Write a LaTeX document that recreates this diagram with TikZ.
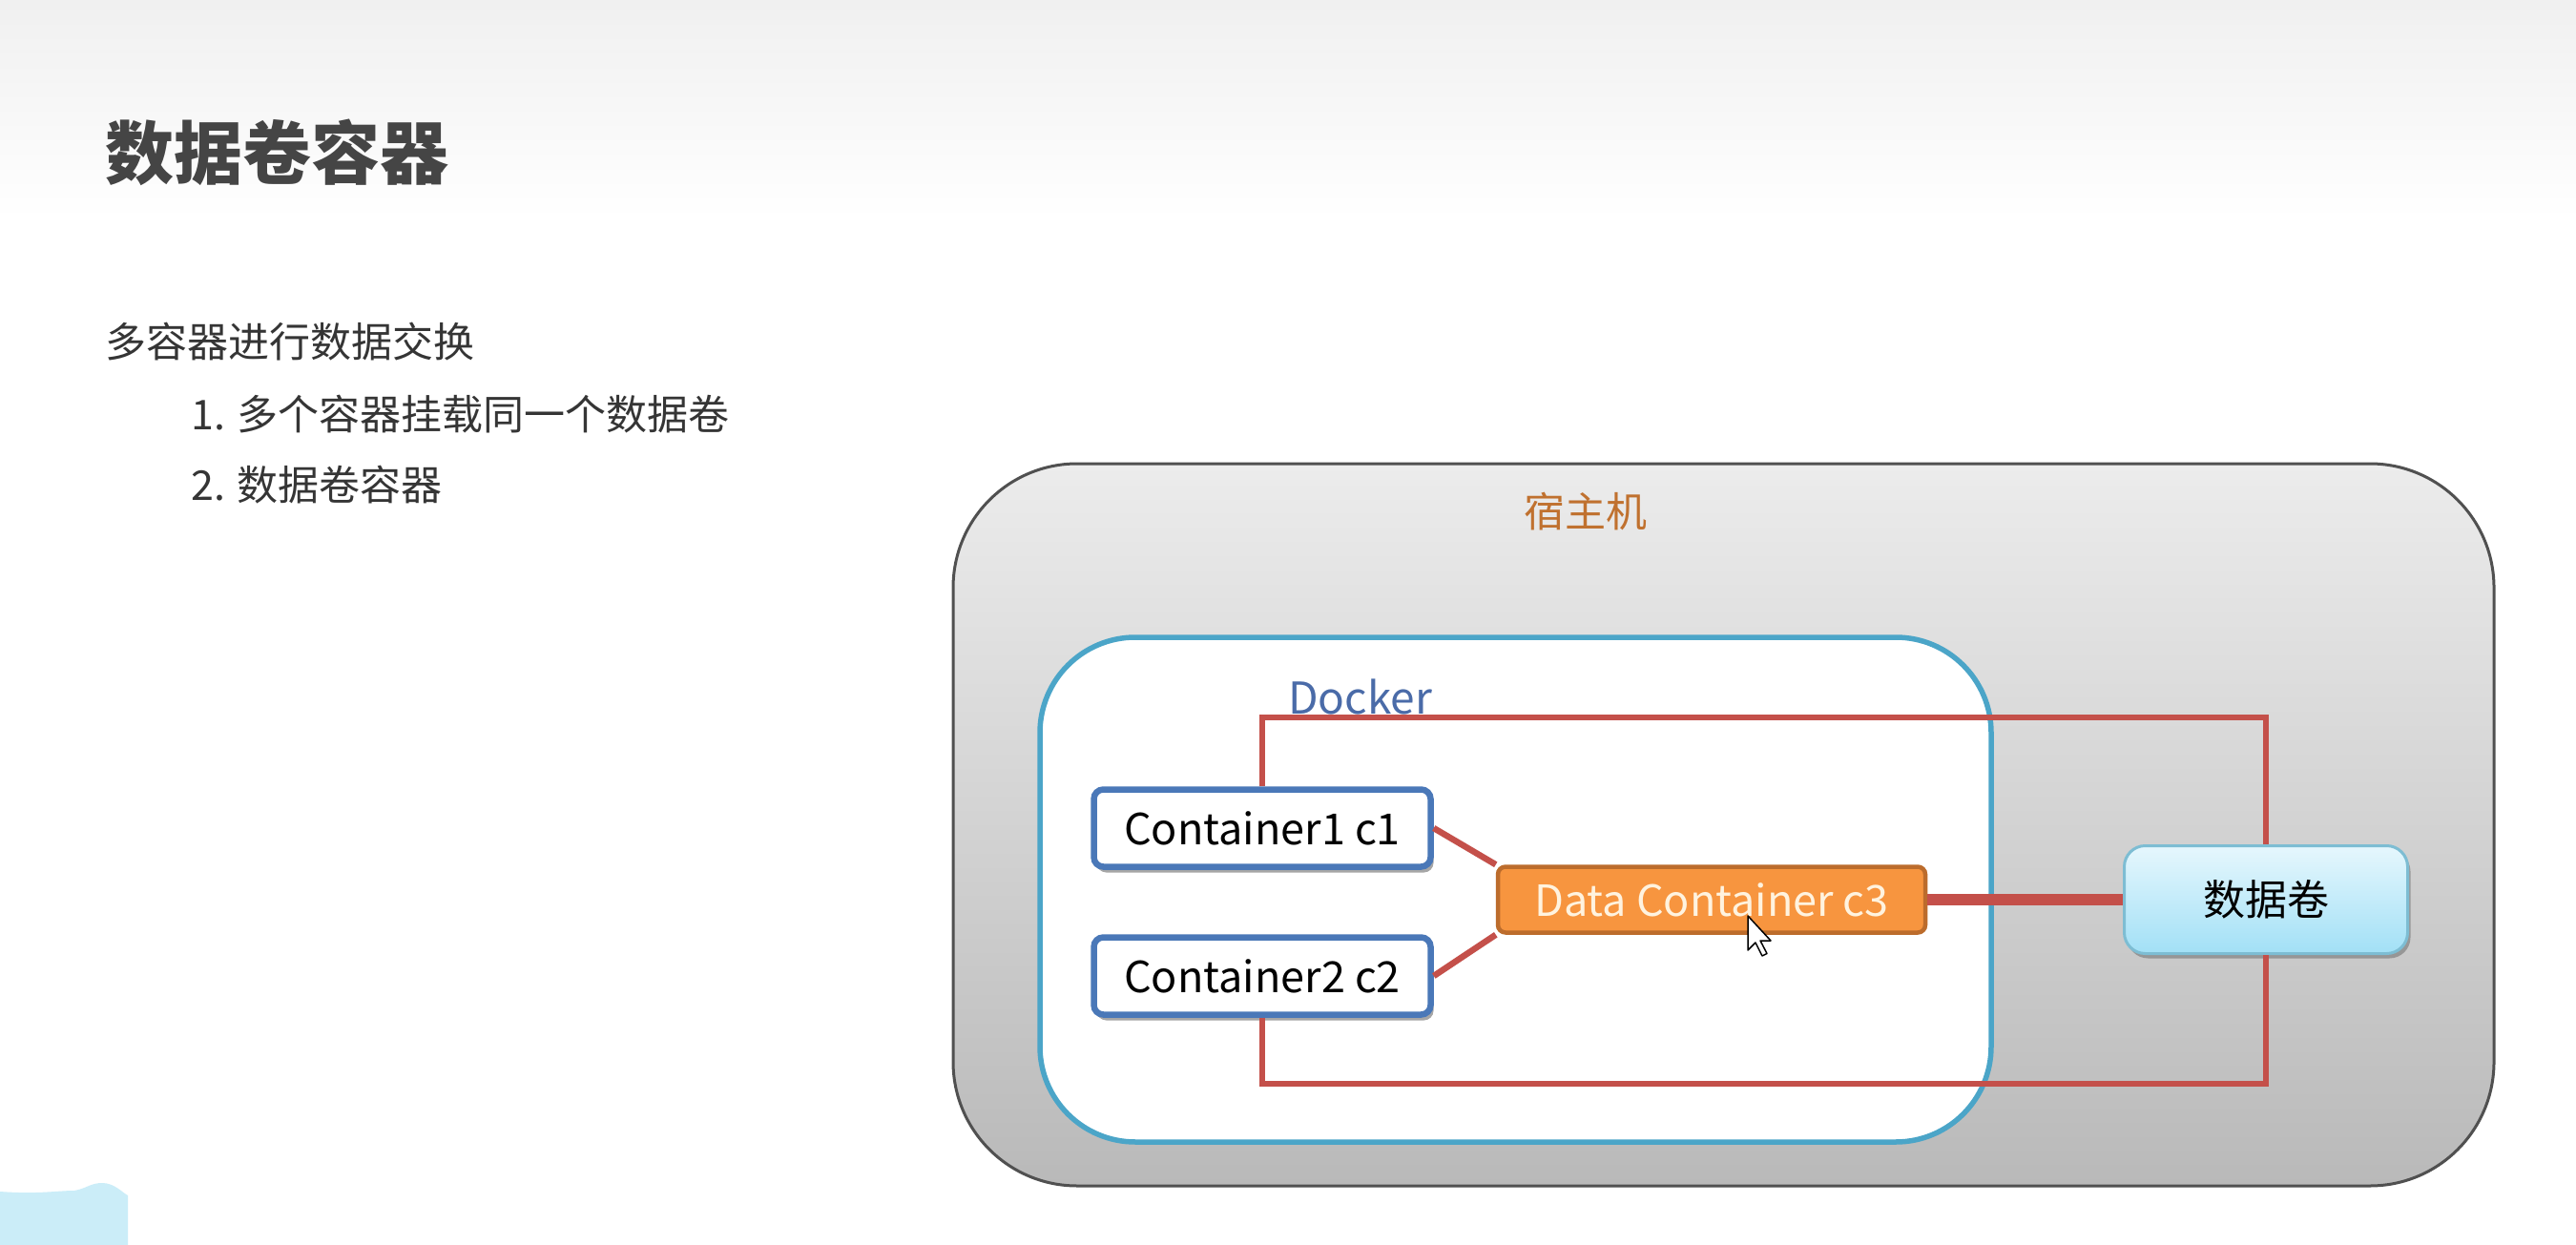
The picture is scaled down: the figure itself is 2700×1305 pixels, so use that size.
\documentclass[tikz,border=0pt]{standalone}
\usepackage{fontspec}
\setmainfont{Noto Sans CJK SC}
\usetikzlibrary{shadows}
\definecolor{hostborder}{HTML}{505050}
\definecolor{hosttop}{HTML}{ECECEC}
\definecolor{hostbot}{HTML}{B9B9B9}
\definecolor{hosttext}{HTML}{C0712F}
\definecolor{dockborder}{HTML}{4BA5C8}
\definecolor{docktext}{HTML}{4A6BA8}
\definecolor{contborder}{HTML}{4A78B8}
\definecolor{dataorange}{HTML}{F7953F}
\definecolor{databorder}{HTML}{BC6C2C}
\definecolor{datatext}{HTML}{FFF3DF}
\definecolor{link}{HTML}{C4504A}
\definecolor{voltop}{HTML}{E6F7FD}
\definecolor{volbot}{HTML}{A2E0F6}
\definecolor{volborder}{HTML}{7DBDD3}
\definecolor{bodytext}{HTML}{353535}
\definecolor{blob}{HTML}{CBEDF8}
\tikzset{
  lbl/.style={font=\fontsize{43}{50}\selectfont},
  contbox/.style={draw=contborder, line width=6.5pt, fill=white, rounded corners=10pt,
    minimum width=353pt, minimum height=81pt, inner sep=0pt,
    font=\fontsize{45}{50}\selectfont, text=black,
    drop shadow={shadow xshift=3pt, shadow yshift=-6pt, opacity=0.35, fill=black}},
  datbox/.style={draw=databorder, line width=4.5pt, fill=dataorange, rounded corners=8pt,
    minimum width=448pt, minimum height=69pt, inner sep=0pt,
    font=\fontsize{45}{50}\selectfont, text=datatext},
  volbox/.style={draw=volborder, line width=3pt, top color=voltop, bottom color=volbot,
    rounded corners=22pt, minimum width=297pt, minimum height=113pt, inner sep=0pt,
    font=\fontsize{44}{50}\selectfont, text=black,
    drop shadow={shadow xshift=3pt, shadow yshift=-5pt, opacity=0.25, fill=black}},
  linkline/.style={draw=link, line width=6.5pt},
  thicklink/.style={draw=link, line width=12pt},
}
\begin{document}
\begin{tikzpicture}[x=1pt,y=-1pt]
% background
\fill[white] (0,0) rectangle (2700,1305);
\useasboundingbox (0,0) rectangle (2700,1305);
\shade[top color=hosttop!80!white, bottom color=white] (0,0) rectangle (2700,230);
% bottom-left blob
\fill[blob] (0,1249) .. controls (40,1252) and (60,1248) .. (78,1248)
  .. controls (90,1246) and (95,1240) .. (107,1240)
  .. controls (120,1240) and (128,1250) .. (134,1253) -- (134,1305) -- (0,1305) -- cycle;
% texts left
\node[anchor=west, text=bodytext!92!white, font=\fontsize{72}{80}\selectfont\bfseries, inner sep=0pt] (title) at (110,160) {数据卷容器};
\node[anchor=west, lbl, text=bodytext, inner sep=0pt] (l0) at (110,358) {多容器进行数据交换};
\node[anchor=west, lbl, text=bodytext, inner sep=0pt] (l1) at (200,434) {1. 多个容器挂载同一个数据卷};
\node[anchor=west, lbl, text=bodytext, inner sep=0pt] (l2) at (200,508) {2. 数据卷容器};
% host
\node[draw=hostborder, line width=3pt, top color=hosttop, bottom color=hostbot,
      rounded corners=130pt, minimum width=1615pt, minimum height=757pt, inner sep=0pt]
      (host) at (1806.5,864.5) {};
\node[lbl, text=hosttext, inner sep=0pt] (hostlbl) at (1662,536) {宿主机};
% docker
\node[draw=dockborder, line width=5.5pt, fill=white, rounded corners=100pt,
      minimum width=997pt, minimum height=529pt, inner sep=0pt]
      (docker) at (1588.5,932.5) {};
\node[anchor=west, font=\fontsize{46}{50}\selectfont, text=docktext, inner sep=0pt] (docklbl) at (1350,730) {Docker};
% boxes
\node[contbox] (c1) at (1323,868) {Container1 c1};
\node[contbox] (c2) at (1323,1023) {Container2 c2};
\node[volbox] (vol) at (2375,943) {数据卷};
\coordinate (topy) at (0,752);
\coordinate (boty) at (0,1136);
% links
\draw[linkline] (c1.north) -- (c1.north |- topy) -- (vol.north |- topy) -- (vol.north);
\draw[linkline] (c2.south) -- (c2.south |- boty) -- (vol.south |- boty) -- (vol.south);
\node[datbox] (c3) at (1794,943) {Data Container c3};
\draw[linkline] (c1.east) -- (c3.north west);
\draw[linkline] (c2.east) -- (c3.south west);
\draw[thicklink] (c3.east) -- (vol.west);
% mouse cursor
\coordinate (cur) at (1832,960);
\draw[fill=white, line width=1.5pt, line join=round] (cur) -- ++(0,36) -- ++(8,-8) -- ++(7,14) -- ++(5,-2.5) -- ++(-7,-13.5) -- ++(11,0) -- cycle;
\end{tikzpicture}
\end{document}
